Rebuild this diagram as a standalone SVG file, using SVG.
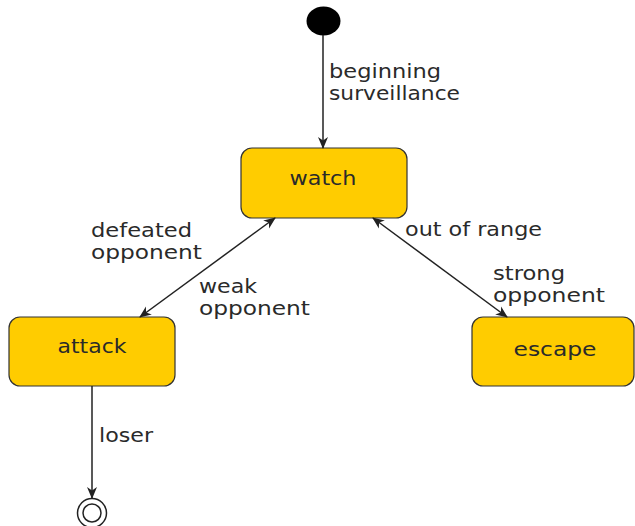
<svg xmlns="http://www.w3.org/2000/svg" width="635" height="526" viewBox="0 0 635 526">
<style>
.node rect{fill:#FFCC00;stroke:#333;stroke-width:1.2}
text{font-family:"DejaVu Sans",sans-serif;font-size:20px;fill:#2a2a2a}
.edge{stroke:#222;stroke-width:1.5;fill:none}
</style>
<defs>
<marker id="arr" viewBox="0 0 12 12" refX="11" refY="6" markerWidth="12" markerHeight="12" markerUnits="userSpaceOnUse" orient="auto-start-reverse">
<path d="M0,1 L12,6 L0,11 L3.5,6 z" fill="#222"/>
</marker>
</defs>
<rect width="635" height="526" fill="#fff"/>
<g id="start"><ellipse cx="323.5" cy="21" rx="17" ry="14.5" fill="#000"/></g>
<g id="watch" class="node"><rect x="241" y="148" width="166" height="70" rx="11"/><text x="323" y="185" text-anchor="middle" textLength="67" lengthAdjust="spacingAndGlyphs">watch</text></g>
<g id="attack" class="node"><rect x="9" y="317" width="166" height="69" rx="11"/><text x="92" y="353" text-anchor="middle" textLength="69" lengthAdjust="spacingAndGlyphs">attack</text></g>
<g id="escape" class="node"><rect x="472" y="317" width="162" height="69" rx="11"/><text x="555" y="356" text-anchor="middle" textLength="83" lengthAdjust="spacingAndGlyphs">escape</text></g>
<g id="final"><circle cx="92" cy="513" r="14.5" fill="none" stroke="#222" stroke-width="1.5"/><circle cx="92" cy="513" r="9" fill="none" stroke="#222" stroke-width="1.5"/></g>
<g id="connectors">
<line class="edge" x1="323" y1="35" x2="323" y2="148" marker-end="url(#arr)"/>
<line class="edge" x1="275" y1="218" x2="140" y2="317" marker-start="url(#arr)" marker-end="url(#arr)"/>
<line class="edge" x1="373" y1="218" x2="507" y2="317" marker-start="url(#arr)" marker-end="url(#arr)"/>
<line class="edge" x1="92" y1="386" x2="92" y2="498" marker-end="url(#arr)"/>
</g>
<g id="labels">
<text x="329" y="78" textLength="112" lengthAdjust="spacingAndGlyphs">beginning</text>
<text x="329" y="100" textLength="131" lengthAdjust="spacingAndGlyphs">surveillance</text>
<text x="91" y="237" textLength="101" lengthAdjust="spacingAndGlyphs">defeated</text>
<text x="91" y="259" textLength="111" lengthAdjust="spacingAndGlyphs">opponent</text>
<text x="199" y="293" textLength="58" lengthAdjust="spacingAndGlyphs">weak</text>
<text x="199" y="315" textLength="111" lengthAdjust="spacingAndGlyphs">opponent</text>
<text x="405" y="236" textLength="137" lengthAdjust="spacingAndGlyphs">out of range</text>
<text x="493" y="280" textLength="72" lengthAdjust="spacingAndGlyphs">strong</text>
<text x="493" y="302" textLength="112" lengthAdjust="spacingAndGlyphs">opponent</text>
<text x="99" y="442" textLength="54" lengthAdjust="spacingAndGlyphs">loser</text>
</g>
</svg>
